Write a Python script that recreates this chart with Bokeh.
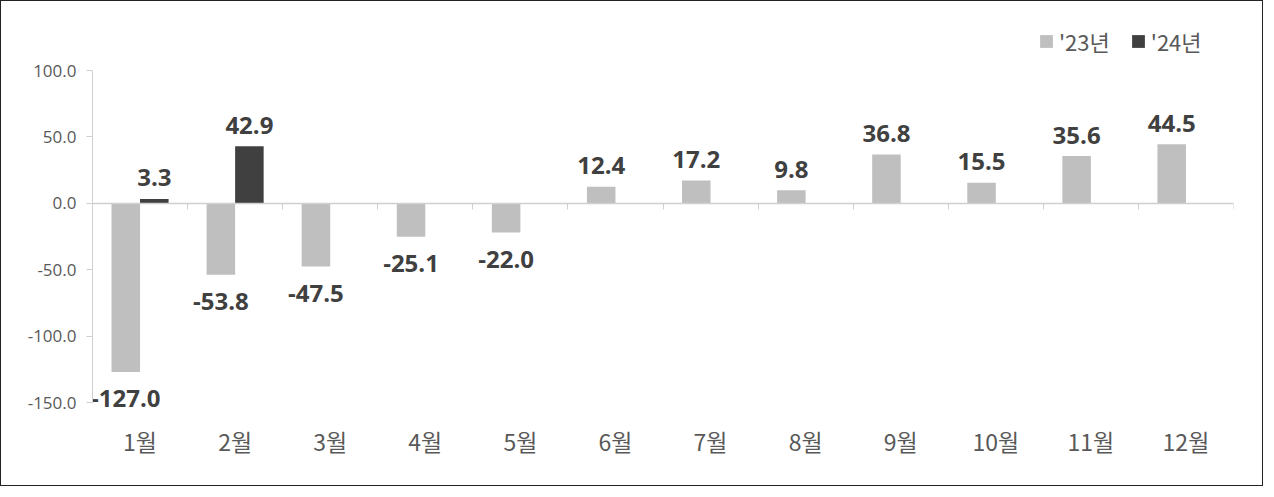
from bokeh.plotting import figure
from bokeh.models import (Range1d, LinearAxis, FixedTicker, NumeralTickFormatter,
                          ColumnDataSource, Legend, LegendItem)
from bokeh.core.properties import value
from bokeh.embed import file_html
from bokeh.resources import INLINE

months = ["1월", "2월", "3월", "4월", "5월", "6월", "7월", "8월", "9월", "10월", "11월", "12월"]
y23 = [-127.0, -53.8, -47.5, -25.1, -22.0, 12.4, 17.2, 9.8, 36.8, 15.5, 35.6, 44.5]
y24 = [3.3, 42.9]
series_names = ["'23년", "'24년"]
y_ticks = [-150, -100, -50, 0, 50, 100]

C23 = "#bfbfbf"
C24 = "#404040"
TXT = "#595959"
LBL = "#404040"
AX = "#d0d0d0"
NUMFONT = "Open Sans"
KRFONT = "Noto Sans CJK KR"

W = 0.3
x23 = [i + 1 - W / 2 for i in range(len(y23))]
x24 = [i + 1 + W / 2 for i in range(len(y24))]

def offsets(vals):
    return [-21 if v >= 0 else 27 for v in vals]

s23 = ColumnDataSource(dict(x=x23, top=y23, lab=[f"{v:.1f}" for v in y23], off=offsets(y23)))
s24 = ColumnDataSource(dict(x=x24, top=y24, lab=[f"{v:.1f}" for v in y24], off=offsets(y24)))

# frame spans a little beyond the axis range so labels and legend are not clipped
upp = 250 / 332.0
y_lo = -150 - 12 * upp
y_hi = 100 + 51 * upp

p = figure(width=1263, height=486, output_backend="svg", toolbar_location=None,
           x_range=Range1d(0.5, 12.5), y_range=Range1d(y_lo, y_hi),
           min_border_left=91, min_border_right=31, min_border_top=18, min_border_bottom=73,
           x_axis_location=None, y_axis_location=None)
p.outline_line_color = None
p.xgrid.visible = False
p.ygrid.visible = False
p.styles = {"border": "1.5px solid #222222"}

r23 = p.vbar(x="x", top="top", bottom=0, width=W, source=s23, fill_color=C23, line_color=None)
r24 = p.vbar(x="x", top="top", bottom=0, width=W, source=s24, fill_color=C24, line_color=None)

for src in (s23, s24):
    p.text(x="x", y="top", text="lab", source=src, y_offset="off",
           text_align="center", text_baseline="alphabetic",
           text_font=value(NUMFONT), text_font_style="bold",
           text_font_size="24px", text_color=LBL)

# y axis
yax = LinearAxis(ticker=FixedTicker(ticks=y_ticks), formatter=NumeralTickFormatter(format="0.0"),
                 bounds=(-150, 100))
yax.axis_line_color = AX
yax.major_tick_line_color = AX
yax.major_tick_out = 6
yax.major_tick_in = 0
yax.minor_tick_line_color = None
yax.major_label_text_font = NUMFONT
yax.major_label_text_font_size = "17px"
yax.major_label_text_color = TXT
yax.major_label_standoff = 10
p.add_layout(yax, "left")

# zero line with category boundary ticks
zax = LinearAxis(fixed_location=0, ticker=FixedTicker(ticks=[i + 0.5 for i in range(len(months) + 1)]))
zax.axis_line_color = AX
zax.axis_line_width = 1.5
zax.major_tick_line_color = AX
zax.major_tick_in = 6
zax.major_tick_out = 0
zax.minor_tick_line_color = None
zax.major_label_text_font_size = "0px"
zax.major_label_text_color = None
p.add_layout(zax, "above")

# month labels
xax = LinearAxis(ticker=FixedTicker(ticks=list(range(1, len(months) + 1))),
                 major_label_overrides={i + 1: m for i, m in enumerate(months)})
xax.axis_line_color = None
xax.major_tick_line_color = None
xax.minor_tick_line_color = None
xax.major_label_text_font = KRFONT
xax.major_label_text_font_size = "23px"
xax.major_label_text_color = TXT
xax.major_label_standoff = 3
p.add_layout(xax, "below")

legend = Legend(items=[LegendItem(label=series_names[0], renderers=[r23]),
                       LegendItem(label=series_names[1], renderers=[r24])],
                orientation="horizontal", location=(946, 357))
legend.background_fill_alpha = 0
legend.border_line_color = None
legend.padding = 0
legend.margin = 0
legend.spacing = 20
legend.glyph_width = 16
legend.glyph_height = 16
legend.label_standoff = 5
legend.label_text_font = KRFONT
legend.label_text_font_size = "22px"
legend.label_text_color = TXT
p.add_layout(legend, "center")

open("out.html", "w").write(file_html(p, INLINE))
